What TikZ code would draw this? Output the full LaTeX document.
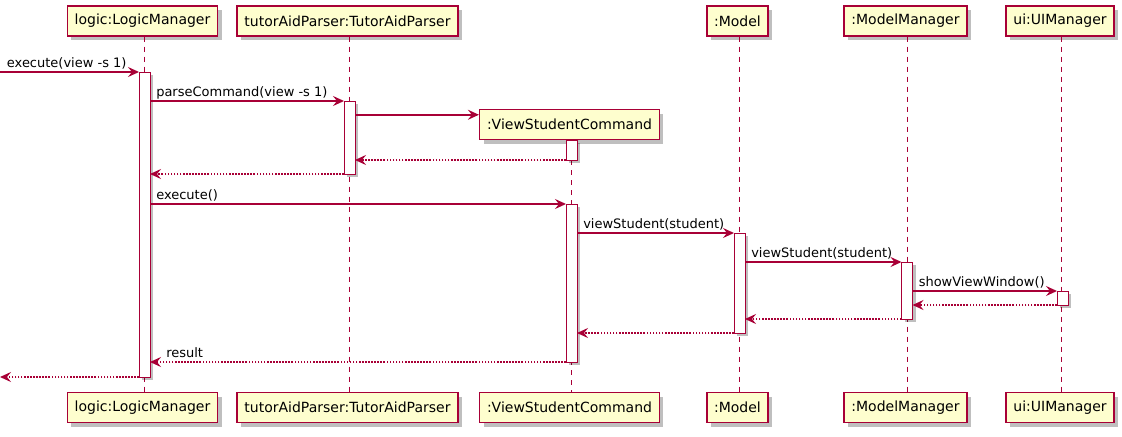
\documentclass[tikz,border=0pt]{standalone}
\usepackage{fontspec}
\setmainfont{DejaVu Sans}
\usetikzlibrary{arrows.meta,shadows}

\definecolor{umlred}{HTML}{A80036}
\definecolor{umlfill}{HTML}{FEFECE}

\begin{document}
\begin{tikzpicture}[
    x=0.75pt, y=-0.75pt,
    participant/.style={
        draw=umlred,
        fill=umlfill,
        line width=1.1pt,
        minimum height=22.5pt,
        inner xsep=5.5pt,
        inner ysep=0pt,
        font=\fontsize{10.5}{12}\selectfont,
        drop shadow={shadow xshift=3pt,shadow yshift=-3pt,opacity=0.25,fill=black}
    },
    actbar/.style={
        draw=umlred,
        fill=white,
        line width=0.75pt,
        minimum width=8.25pt,
        inner sep=0pt,
        outer sep=0pt,
        drop shadow={shadow xshift=2.5pt,shadow yshift=-2.5pt,opacity=0.25,fill=black}
    },
    lifeline/.style={draw=umlred, line width=0.8pt, dash pattern=on 3.75pt off 3.75pt},
    msg/.style={draw=umlred, line width=1.6pt, -{Stealth[length=8.25pt,width=7.5pt,inset=3pt]}},
    ret/.style={msg, line width=1.5pt, dash pattern=on 1.2pt off 1.1pt},
    lbl/.style={anchor=base west, inner sep=0pt, yshift=3.75pt,
        font=\fontsize{9.75}{11}\selectfont}
]
\useasboundingbox (0,0) rectangle (1122,436);

\node[participant] (logic) at (142.5,21) {logic:LogicManager};
\node[participant] (parser) at (347.5,21) {tutorAidParser:TutorAidParser};
\node[participant] (vsc) at (569.5,124.5) {:ViewStudentCommand};
\node[participant] (model) at (737.5,21) {:Model};
\node[participant] (mm) at (905.5,21) {:ModelManager};
\node[participant] (ui) at (1060,21) {ui:UIManager};

\node[participant] (logicBot) at (142.5,407.5) {logic:LogicManager};
\node[participant] (parserBot) at (347.5,407.5) {tutorAidParser:TutorAidParser};
\node[participant] (vscBot) at (569.5,407.5) {:ViewStudentCommand};
\node[participant] (modelBot) at (737.5,407.5) {:Model};
\node[participant] (mmBot) at (905.5,407.5) {:ModelManager};
\node[participant] (uiBot) at (1060,407.5) {ui:UIManager};

\draw[lifeline] ([xshift=1.5pt]logic.south) -- ([xshift=1.5pt]logicBot.north);
\draw[lifeline] ([xshift=1.5pt]parser.south) -- ([xshift=1.5pt]parserBot.north);
\draw[lifeline] ([xshift=1.5pt]vsc.south) -- ([xshift=1.5pt]vscBot.north);
\draw[lifeline] ([xshift=1.5pt]model.south) -- ([xshift=1.5pt]modelBot.north);
\draw[lifeline] ([xshift=1.5pt]mm.south) -- ([xshift=1.5pt]mmBot.north);
\draw[lifeline] ([xshift=1pt]ui.south) -- ([xshift=1pt]uiBot.north);

\node[actbar, minimum height=228.75pt] (logicAct) at (144.5,224.5) {};
\node[actbar, minimum height=54.75pt] (parserAct) at (349.5,137.5) {};
\node[actbar, minimum height=15pt] (vscAct) at (571.5,150) {};
\node[actbar, minimum height=118.5pt] (vscRun) at (571.5,283) {};
\node[actbar, minimum height=75pt] (modelAct) at (739.5,283) {};
\node[actbar, minimum height=42.75pt] (mmAct) at (907,290.5) {};
\node[actbar, minimum height=10.5pt] (uiAct) at (1062.5,298) {};

\coordinate (caller) at (logicAct.north west -| 0,0);
\coordinate (back) at (logicAct.south west -| 0,0);
\coordinate (newVsc) at ([yshift=-4.5pt]vsc.north west);

\draw[msg] (caller) -- (logicAct.north west);
\draw[msg] (logicAct.east |- parserAct.north) -- (parserAct.north west);
\draw[msg] (parserAct.east |- newVsc) -- (newVsc);
\draw[ret] (vscAct.south west) -- (parserAct.east |- vscAct.south);
\draw[ret] (parserAct.south west) -- (logicAct.east |- parserAct.south);
\draw[msg] (logicAct.east |- vscRun.north) -- (vscRun.north west);
\draw[msg] (vscRun.east |- modelAct.north) -- (modelAct.north west);
\draw[msg] (modelAct.east |- mmAct.north) -- (mmAct.north west);
\draw[msg] (mmAct.east |- uiAct.north) -- (uiAct.north west);
\draw[ret] (uiAct.south west) -- (mmAct.east |- uiAct.south);
\draw[ret] (mmAct.south west) -- (modelAct.east |- mmAct.south);
\draw[ret] (modelAct.south west) -- (vscRun.east |- modelAct.south);
\draw[ret] (vscRun.south west) -- (logicAct.east |- vscRun.south);
\draw[ret] (logicAct.south west) -- (back);

\node[lbl, xshift=5pt] (l1) at (caller) {execute(view -s 1)};
\node[lbl, xshift=4.5pt] (l2) at (logicAct.east |- parserAct.north) {parseCommand(view -s 1)};
\node[lbl, xshift=4.5pt] (l3) at (logicAct.east |- vscRun.north) {execute()};
\node[lbl, xshift=4.5pt] (l4) at (vscRun.east |- modelAct.north) {viewStudent(student)};
\node[lbl, xshift=4.5pt] (l5) at (modelAct.east |- mmAct.north) {viewStudent(student)};
\node[lbl, xshift=4.5pt] (l6) at (mmAct.east |- uiAct.north) {showViewWindow()};
\node[lbl, xshift=12pt] (l7) at (logicAct.east |- vscRun.south) {result};

\end{tikzpicture}
\end{document}
